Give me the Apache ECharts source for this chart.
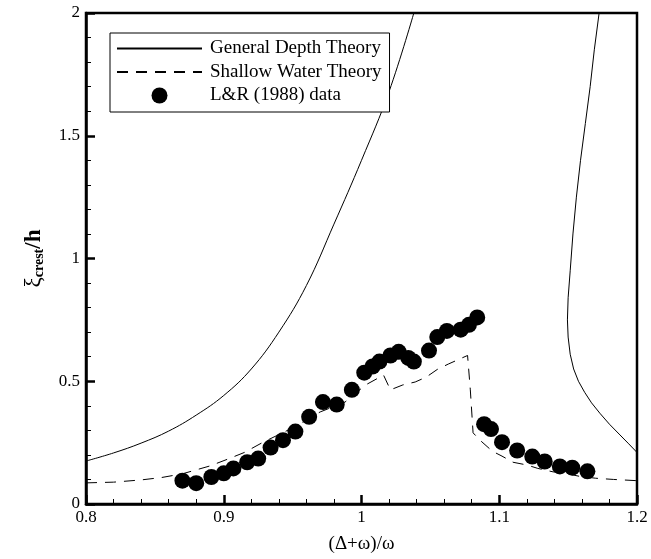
<!DOCTYPE html>
<html>
<head>
<meta charset="utf-8">
<script src="https://cdn.jsdelivr.net/npm/echarts@6/dist/echarts.min.js"></script>
<style>html,body{margin:0;padding:0;background:#fff;}#c{width:651px;height:559px;}</style>
</head>
<body>
<div id="c"></div>
<script>
// General Depth Theory, left branch
const depthLeftX = [0.800, 0.820, 0.840, 0.860, 0.880, 0.900, 0.920, 0.940, 0.960, 0.980, 1.000, 1.020, 1.038];
const depthLeftY = [0.175, 0.208, 0.248, 0.297, 0.362, 0.442, 0.550, 0.700, 0.890, 1.140, 1.400, 1.680, 2.000];
// General Depth Theory, right branch
const depthRightX = [1.1725, 1.169, 1.166, 1.1625, 1.159, 1.156, 1.1535, 1.1515, 1.150, 1.1495, 1.150, 1.1515, 1.154, 1.1575, 1.162, 1.167, 1.173, 1.180, 1.187, 1.194, 1.200];
const depthRightY = [2.000, 1.850, 1.700, 1.550, 1.400, 1.250, 1.100, 0.950, 0.840, 0.750, 0.680, 0.610, 0.550, 0.500, 0.455, 0.412, 0.370, 0.325, 0.285, 0.245, 0.210];
// Shallow Water Theory
const shallowX = [0.800, 0.820, 0.840, 0.855, 0.870, 0.890, 0.903, 0.915, 0.928, 0.950, 0.970, 0.988, 1.003, 1.016, 1.021, 1.030, 1.039, 1.047, 1.055, 1.063, 1.077, 1.079, 1.081, 1.086, 1.095, 1.102, 1.110, 1.120, 1.128, 1.139, 1.148, 1.158, 1.170, 1.183, 1.200];
const shallowY = [0.086, 0.089, 0.098, 0.108, 0.123, 0.155, 0.183, 0.210, 0.250, 0.310, 0.375, 0.415, 0.485, 0.525, 0.465, 0.485, 0.497, 0.517, 0.548, 0.570, 0.605, 0.465, 0.290, 0.260, 0.215, 0.195, 0.170, 0.159, 0.145, 0.131, 0.125, 0.113, 0.105, 0.100, 0.095];
// L&R (1988) data
const dataX = [0.870, 0.880, 0.891, 0.900, 0.907, 0.917, 0.925, 0.934, 0.943, 0.952, 0.962, 0.972, 0.982, 0.993, 1.002, 1.008, 1.013, 1.021, 1.027, 1.034, 1.038, 1.049, 1.055, 1.062, 1.072, 1.078, 1.084, 1.089, 1.094, 1.102, 1.113, 1.124, 1.133, 1.144, 1.153, 1.164];
const dataY = [0.095, 0.085, 0.110, 0.125, 0.145, 0.170, 0.185, 0.230, 0.260, 0.295, 0.355, 0.415, 0.405, 0.465, 0.535, 0.560, 0.580, 0.605, 0.620, 0.595, 0.580, 0.625, 0.680, 0.705, 0.710, 0.730, 0.760, 0.325, 0.305, 0.252, 0.218, 0.193, 0.173, 0.153, 0.148, 0.133];

const names = ['General Depth Theory', 'Shallow Water Theory', 'L&R (1988) data'];
const xMin = 0.8, xMax = 1.2, xStep = 0.1;
const yMin = 0, yMax = 2, yStep = 0.5;

const zip = (xs, ys) => xs.map((x, i) => [x, ys[i]]);
const serif = '"Liberation Serif", "Times New Roman", serif';
const hidden = { color: 'rgba(0,0,0,0)', borderColor: 'rgba(0,0,0,0)', borderWidth: 0, opacity: 0 };

const chart = echarts.init(document.getElementById('c'));
chart.setOption({
  animation: false,
  backgroundColor: '#fff',
  grid: { left: 86, right: 14, top: 13, bottom: 50, show: true, borderColor: '#000', borderWidth: 2.5, backgroundColor: 'transparent' },
  legend: {
    data: [
      { name: names[0], itemStyle: hidden },
      { name: names[1], itemStyle: hidden },
      { name: names[2], icon: 'circle' }
    ],
    orient: 'vertical', left: 110, top: 33,
    itemWidth: 85, itemHeight: 16, itemGap: 4.5,
    padding: [6, 8, 7, 6],
    borderColor: '#000', borderWidth: 1, backgroundColor: '#fff',
    textStyle: { fontFamily: serif, fontSize: 19, lineHeight: 19, color: '#000', padding: [0, 0, 0, 3] }
  },
  xAxis: {
    type: 'value', min: xMin, max: xMax, interval: xStep,
    name: '(Δ+ω)/ω', nameLocation: 'middle', nameGap: 31,
    nameTextStyle: { fontFamily: serif, fontSize: 19, color: '#000' },
    axisLine: { lineStyle: { color: '#000', width: 2.5 } },
    axisTick: { inside: true, length: 9, lineStyle: { color: '#000', width: 2.5 } },
    minorTick: { show: true, splitNumber: 5, length: 5, lineStyle: { color: '#000', width: 1 } },
    axisLabel: { fontFamily: serif, fontSize: 17, color: '#000', margin: 5 },
    splitLine: { show: false }
  },
  yAxis: {
    type: 'value', min: yMin, max: yMax, interval: yStep,
    name: '{xi|ξ}{sub|crest}{h|/h}', nameLocation: 'middle', nameGap: 40,
    nameTextStyle: {
      fontFamily: serif, color: '#000',
      rich: {
        xi: { fontFamily: serif, fontSize: 23, color: '#000', verticalAlign: 'top' },
        sub: { fontFamily: serif, fontSize: 14, fontWeight: 'bold', color: '#000', verticalAlign: 'bottom', padding: [10, 0, 0, 0] },
        h: { fontFamily: serif, fontSize: 23, fontWeight: 'bold', color: '#000' }
      }
    },
    axisLine: { lineStyle: { color: '#000', width: 2.5 } },
    axisTick: { inside: true, length: 9, lineStyle: { color: '#000', width: 2.5 } },
    minorTick: { show: true, splitNumber: 5, length: 5, lineStyle: { color: '#000', width: 1 } },
    axisLabel: { fontFamily: serif, fontSize: 17, color: '#000', margin: 6 },
    splitLine: { show: false }
  },
  series: [
    { name: names[0], type: 'line', data: zip(depthLeftX, depthLeftY), symbol: 'none', smooth: 0.4,
      lineStyle: { color: '#000', width: 1 }, itemStyle: { color: '#000' }, z: 2 },
    { name: names[0], type: 'line', data: zip(depthRightX, depthRightY), symbol: 'none', smooth: false,
      lineStyle: { color: '#000', width: 1 }, itemStyle: { color: '#000' }, z: 2 },
    { name: names[1], type: 'line', data: zip(shallowX, shallowY), symbol: 'none',
      lineStyle: { color: '#000', width: 1, type: [11, 8] }, itemStyle: { color: '#000' }, z: 2 },
    { name: names[2], type: 'scatter', data: zip(dataX, dataY), symbol: 'circle', symbolSize: 16,
      itemStyle: { color: '#000', opacity: 1 }, z: 3 }
  ]
});
</script>
</body>
</html>
